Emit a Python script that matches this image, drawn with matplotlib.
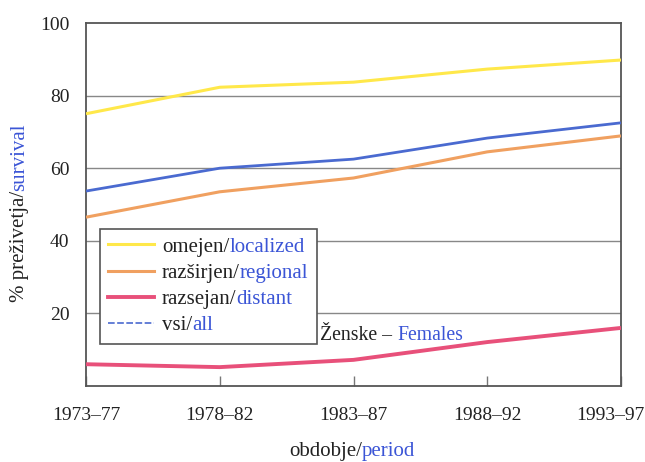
import matplotlib
matplotlib.use("Agg")
import matplotlib.pyplot as plt
from matplotlib.lines import Line2D
from matplotlib.transforms import ScaledTranslation

periods = ["1973–77", "1978–82", "1983–87", "1988–92", "1993–97"]
localized = [75, 82.3, 83.7, 87.3, 89.8]
regional = [46.5, 53.5, 57.3, 64.5, 68.9]
distant = [6.0, 5.2, 7.2, 12.1, 16.0]
all_stages = [53.7, 60.0, 62.5, 68.3, 72.5]

labels_sl = ["omejen/", "razširjen/", "razsejan/", "vsi/"]
labels_en = ["localized", "regional", "distant", "all"]
colors = ["#FFE84A", "#F0A060", "#E8507A", "#4A6AD0"]
series = [localized, regional, distant, all_stages]
widths = [2.2, 2.2, 2.8, 2.0]

BLUE = "#3B55D6"
DARK = "#222222"
FONT = "Liberation Serif"
FS_TICK = 14
FS = 15

plt.rcParams["font.family"] = [FONT, "DejaVu Serif"]

fig = plt.figure(figsize=(6.45, 4.62), dpi=100)
ax = fig.add_axes([86/645, 1-386/462, 535/645, 363/462])

x = list(range(len(periods)))
for ys, c, lw in zip(series, colors, widths):
    ax.plot(x, ys, color=c, lw=lw, solid_capstyle="butt", zorder=3)

ax.set_xlim(0, len(periods)-1)
ax.set_ylim(0, 100)
ax.set_yticks([20, 40, 60, 80, 100])
ax.set_xticks(x)
ax.set_xticklabels(periods, fontsize=FS_TICK, color=DARK)
ax.set_yticklabels(["20", "40", "60", "80", "100"], fontsize=FS_TICK, color=DARK)
ax.tick_params(axis="x", direction="in", length=7, width=1, color="#777777", pad=15)
ax.tick_params(axis="y", length=0, pad=12)
last = ax.get_xticklabels()[-1]
last.set_transform(last.get_transform() + ScaledTranslation(-11/100, 0, fig.dpi_scale_trans))
for y in [20, 40, 60, 80]:
    ax.axhline(y, color="#888888", lw=1.0, zorder=1)
for s in ax.spines.values():
    s.set_color("#555555")
    s.set_linewidth(1.3)

# legend with two-colour labels
handles = []
for i, (c, lw) in enumerate(zip(colors, widths)):
    if i == 3:
        handles.append(Line2D([], [], color=c, lw=1.2, linestyle=(0, (4, 1.5))))
    else:
        handles.append(Line2D([], [], color=c, lw=lw))
full = [a + b for a, b in zip(labels_sl, labels_en)]
leg = ax.legend(handles, full, loc="upper left", bbox_to_anchor=(0.026, 0.433),
                borderaxespad=0, fancybox=False, framealpha=1, edgecolor="#555555",
                fontsize=FS, handlelength=2.2, handletextpad=0.38, labelspacing=0.32,
                borderpad=0.4)
leg.get_frame().set_linewidth(1.2)
for t, a, b in zip(leg.get_texts(), labels_sl, labels_en):
    t.set_alpha(0)
    t1 = ax.annotate(a, xy=(0, 0), xycoords=t, ha="left", va="bottom",
                     fontsize=FS, color=DARK, zorder=10)
    ax.annotate(b, xy=(1, 0), xycoords=t1, ha="left", va="bottom",
                fontsize=FS, color=BLUE, zorder=10)

# Ženske – Females annotation
t1 = ax.text(1.75, 14, "Ženske – ", fontsize=14.2, color=DARK, va="center", ha="left", zorder=4)
ax.annotate("Females", xy=(1, 0), xycoords=t1, ha="left", va="bottom", fontsize=14.2, color=BLUE)

# x label
xa = fig.text(362/645, 1-461/462, "obdobje/", ha="right", va="bottom", fontsize=FS, color=DARK)
ax.annotate("period", xy=(1, 0), xycoords=xa, ha="left", va="bottom", fontsize=FS, color=BLUE)

# y label
ya = fig.text(20/645, 1-302/462, "% preživetja/", rotation=90, ha="center", va="bottom",
              fontsize=FS, color=DARK)
ax.annotate("survival", xy=(0, 1), xycoords=ya, ha="left", va="bottom", rotation=90,
            fontsize=FS, color=BLUE)

fig.savefig("out.png", dpi=100)
